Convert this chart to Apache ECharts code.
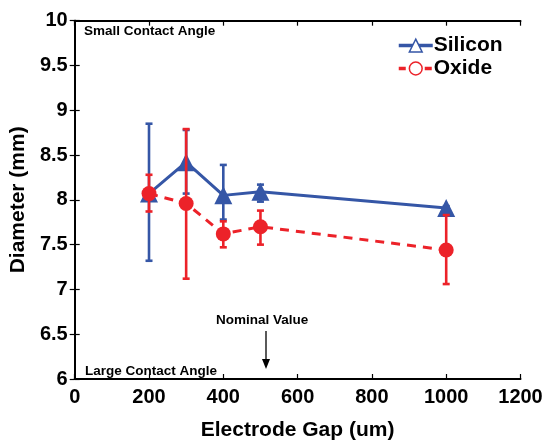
<!DOCTYPE html>
<html><head><meta charset="utf-8">
<script src="https://cdn.jsdelivr.net/npm/echarts@6/dist/echarts.min.js"></script>
<style>html,body{margin:0;padding:0;background:#fff}#c{width:549px;height:446px}</style>
</head><body><div id="c"></div>
<script>
const gaps = [200, 300, 400, 500, 1000];
const siliconMean = [8.07, 8.42, 8.05, 8.09, 7.91];
const siliconLow  = [7.32, 8.07, 7.78, 7.98, 7.89];
const siliconHigh = [8.85, 8.78, 8.39, 8.17, 7.93];
const oxideMean = [8.07, 7.96, 7.62, 7.70, 7.44];
const oxideLow  = [7.87, 7.12, 7.47, 7.50, 7.06];
const oxideHigh = [8.28, 8.79, 7.76, 7.88, 7.83];
const xTicks = [0, 200, 400, 600, 800, 1000, 1200];
const yTicks = [6, 6.5, 7, 7.5, 8, 8.5, 9, 9.5, 10];

const BLUE = '#3556a6', RED = '#ec2229';
const FONT = 'Liberation Sans';
const chart = echarts.init(document.getElementById('c'));

function errData(low, high) { return gaps.map((g, i) => [g, low[i], high[i]]); }
function errRender(color) {
  return function (params, api) {
    const x = api.value(0);
    const lo = api.coord([x, api.value(1)]);
    const hi = api.coord([x, api.value(2)]);
    const w = 3.5;
    const st = { stroke: color, lineWidth: 2.6 };
    return { type: 'group', children: [
      { type: 'line', shape: { x1: lo[0], y1: lo[1], x2: hi[0], y2: hi[1] }, style: st },
      { type: 'line', shape: { x1: lo[0] - w, y1: lo[1], x2: lo[0] + w, y2: lo[1] }, style: st },
      { type: 'line', shape: { x1: hi[0] - w, y1: hi[1], x2: hi[0] + w, y2: hi[1] }, style: st }
    ]};
  };
}

const axisLine = { show: true, lineStyle: { color: '#000', width: 2 } };
const tick = { show: true, inside: true, length: 5, lineStyle: { color: '#000', width: 1.2 } };

chart.setOption({
  animation: false,
  grid: { left: 74.7, right: 28.5, top: 20.7, bottom: 63.3 },
  xAxis: [
    { type: 'value', min: 0, max: 1200, interval: 200, position: 'bottom',
      axisLine, axisTick: tick, splitLine: { show: false },
      axisLabel: { color: '#000', fontFamily: FONT, fontWeight: 'bold', fontSize: 20, margin: 8,
        formatter: v => xTicks.includes(v) ? String(v) : '' },
      name: 'Electrode Gap (um)', nameLocation: 'middle', nameGap: 41,
      nameTextStyle: { color: '#000', fontFamily: FONT, fontWeight: 'bold', fontSize: 21 } },
    { type: 'value', min: 0, max: 1200, interval: 200, position: 'top',
      axisLine, axisTick: tick, axisLabel: { show: false }, splitLine: { show: false } }
  ],
  yAxis: [
    { type: 'value', min: 6, max: 10, interval: 0.5, position: 'left',
      axisLine, axisTick: tick, splitLine: { show: false },
      axisLabel: { color: '#000', fontFamily: FONT, fontWeight: 'bold', fontSize: 20, margin: 7,
        formatter: v => yTicks.includes(v) ? String(v) : '' },
      name: 'Diameter (mm)', nameLocation: 'middle', nameGap: 42,
      nameTextStyle: { color: '#000', fontFamily: FONT, fontWeight: 'bold', fontSize: 21 } },
    { type: 'value', min: 6, max: 10, interval: 0.5, position: 'right',
      axisLine, axisTick: tick, axisLabel: { show: false }, splitLine: { show: false } }
  ],
  legend: {
    left: 392, top: 30, orient: 'vertical', itemGap: 2, itemWidth: 34, itemHeight: 16,
    textStyle: { color: '#000', fontFamily: FONT, fontWeight: 'bold', fontSize: 21, lineHeight: 21, padding: [0, 0, 0, -4] },
    data: [
      { name: 'Silicon', itemStyle: { color: '#fff', borderColor: BLUE, borderWidth: 1.5 },
        lineStyle: { color: BLUE, width: 3.5, type: 'solid' } },
      { name: 'Oxide', itemStyle: { color: '#fff', borderColor: RED, borderWidth: 1.5 },
        lineStyle: { color: RED, width: 3.5, type: [7, 6] } }
    ]
  },
  series: [
    { type: 'custom', name: 'Silicon err', renderItem: errRender(BLUE), data: errData(siliconLow, siliconHigh), z: 2 },
    { type: 'line', name: 'Silicon', data: gaps.map((g, i) => [g, siliconMean[i]]),
      symbol: 'triangle', symbolSize: 18, itemStyle: { color: BLUE },
      lineStyle: { color: BLUE, width: 3 }, z: 3 },
    { type: 'custom', name: 'Oxide err', renderItem: errRender(RED), data: errData(oxideLow, oxideHigh), z: 4 },
    { type: 'line', name: 'Oxide', data: gaps.map((g, i) => [g, oxideMean[i]]),
      symbol: 'circle', symbolSize: 15, itemStyle: { color: RED },
      lineStyle: { color: RED, width: 3, type: [9, 7] }, z: 5 }
  ],
  graphic: [
    { type: 'text', left: 84, top: 24, style: { text: 'Small Contact Angle', fill: '#000', font: 'bold 13.5px "Liberation Sans"' } },
    { type: 'text', left: 85, top: 364, style: { text: 'Large Contact Angle', fill: '#000', font: 'bold 13.5px "Liberation Sans"' } },
    { type: 'text', left: 216, top: 313, style: { text: 'Nominal Value', fill: '#000', font: 'bold 13.5px "Liberation Sans"' } },
    { type: 'line', shape: { x1: 266, y1: 331, x2: 266, y2: 361 }, style: { stroke: '#000', lineWidth: 1.3 } },
    { type: 'polygon', shape: { points: [[262, 359], [270, 359], [266, 369]] }, style: { fill: '#000' } }
  ]
});
</script></body></html>
